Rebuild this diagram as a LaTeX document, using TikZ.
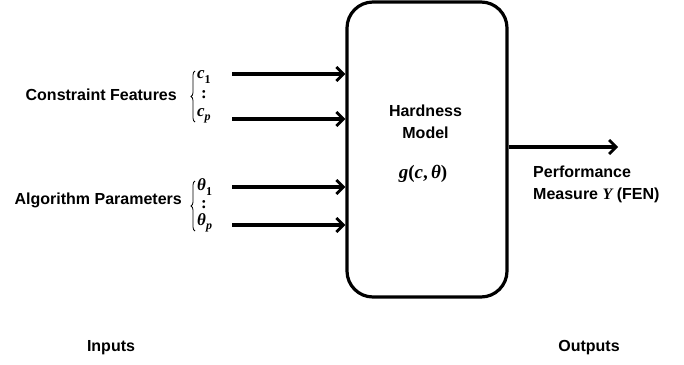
\documentclass[tikz,border=0pt]{standalone}
\usepackage{fontspec}
\setmainfont{Liberation Sans}
\newfontfamily\mfnt{Liberation Serif}
\newcommand\mv[1]{{\mfnt\bfseries\itshape #1}}
\newcommand\mup[1]{{\mfnt\bfseries #1}}
\newcommand\msub[1]{\raisebox{-0.25em}{\fontsize{12}{13}\selectfont\mfnt\bfseries #1}}
\newcommand\msubi[1]{\raisebox{-0.25em}{\fontsize{12}{13}\selectfont\mfnt\bfseries\itshape #1}}
\usetikzlibrary{arrows.meta,decorations.pathreplacing}
\begin{document}
\begin{tikzpicture}[x=1pt,y=-1pt,
  lbl/.style={font=\fontsize{16}{22}\selectfont\bfseries, inner sep=0pt, align=center},
  mth/.style={font=\fontsize{17}{18}\selectfont, inner sep=0pt},
  inarrow/.style={line width=3.2pt, -{Straight Barb[length=7pt,width=14pt,line width=2.8pt]}},
  brc/.style={decorate, decoration={brace, amplitude=4pt}, line width=0.8pt}
]
\useasboundingbox[fill=white] (0,0) rectangle (684,364);
\node[draw, line width=3.2pt, rounded corners=26pt, minimum width=160pt, minimum height=295pt, inner sep=0pt] (model) at (427,149.5) {};
\node[lbl] (hard) at (425.5,122) {Hardness\\Model};
\node[mth, font=\fontsize{19}{20}\selectfont] (g) at (423,174) {\mv{g}\mup{(}\mv{c}\mup{,}\,\mv{θ}\mup{)}};

\node[lbl, anchor=east] (cf) at (177,95) {Constraint Features};
\node[lbl, anchor=east] (ap) at (182,200) {Algorithm Parameters};

\node[mth, anchor=west] (c1) at (197,77) {\mv{c}\msub{1}};
\node[mth] (cdots) at (204,95) {\mup{:}};
\node[mth, anchor=west] (cp) at (197,116) {\mv{c}\msubi{p}};
\node[mth, anchor=west] (t1) at (197,187) {\mv{θ}\msub{1}};
\node[mth] (tdots) at (204,205) {\mup{:}};
\node[mth, anchor=west] (tp) at (197,223) {\mv{θ}\msubi{p}};

\coordinate (bc1) at (195,122);
\coordinate (bc2) at (195,71);
\coordinate (bt1) at (195,231);
\coordinate (bt2) at (195,181);
\draw[brc] (bc1) -- (bc2);
\draw[brc] (bt1) -- (bt2);

\coordinate (s1) at (232,74);
\coordinate (s2) at (232,119);
\coordinate (s3) at (232,187);
\coordinate (s4) at (232,225);
\draw[inarrow] (s1) -- (s1 -| model.west);
\draw[inarrow] (s2) -- (s2 -| model.west);
\draw[inarrow] (s3) -- (s3 -| model.west);
\draw[inarrow] (s4) -- (s4 -| model.west);

\coordinate (out) at (618,147);
\draw[inarrow] (out -| model.east) -- (out);

\node[lbl, anchor=west, align=left] (perf) at (533,184) {Performance\\Measure \mv{Y} (FEN)};

\node[lbl] (inputs) at (111,348) {Inputs};
\node[lbl] (outputs) at (589,348) {Outputs};
\end{tikzpicture}
\end{document}
